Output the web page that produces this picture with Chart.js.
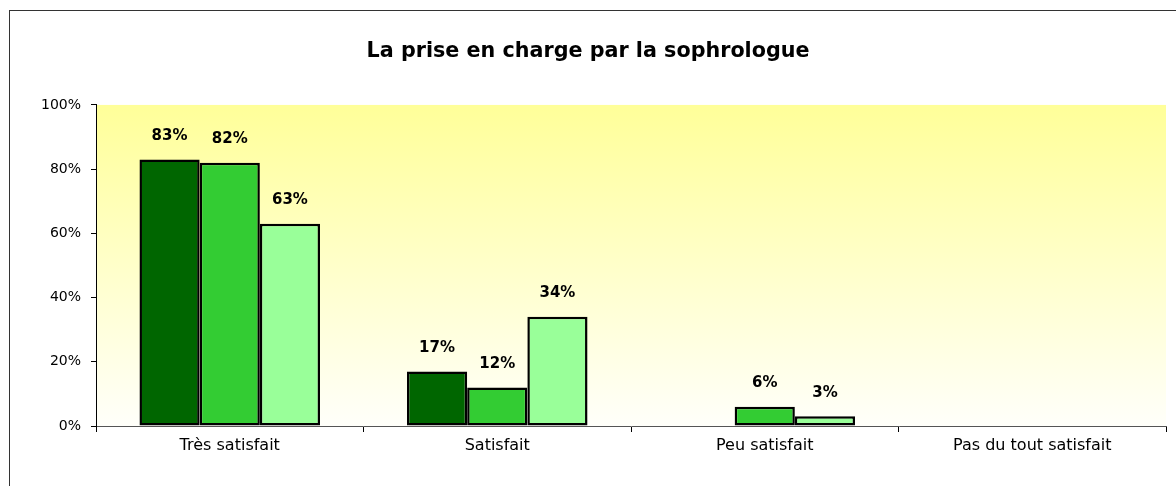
<!DOCTYPE html>
<html>
<head>
<meta charset="utf-8">
<script src="https://cdn.jsdelivr.net/npm/chart.js@4"></script>
<style>
  html, body { margin: 0; padding: 0; background: #fff; }
  #wrap { width: 1176px; height: 486px; }
</style>
</head>
<body>
<div id="wrap"><canvas id="chart1"></canvas></div>
<script>
const categories = ["Très satisfait", "Satisfait", "Peu satisfait", "Pas du tout satisfait"];
const serie1 = [83, 17, null, null];
const serie2 = [82, 12, 6, null];
const serie3 = [63, 34, 3, null];
const yTicks = [0, 20, 40, 60, 80, 100];

// fond dégradé jaune + cadre extérieur
const fondPlugin = {
  id: "fond",
  beforeDraw(chart) {
    const c = chart.ctx;
    const a = chart.chartArea;
    c.save();
    const g = c.createLinearGradient(0, a.top, 0, a.bottom);
    g.addColorStop(0, "#FFFF99");
    g.addColorStop(1, "#FFFFFA");
    c.fillStyle = g;
    c.fillRect(a.left, a.top, a.right - a.left, a.bottom - a.top);
    c.strokeStyle = "#333";
    c.lineWidth = 1;
    c.strokeRect(9.5, 10.5, chart.width, chart.height);
    c.restore();
  }
};

// étiquettes de valeurs au-dessus des barres
const etiquettes = {
  id: "etiquettes",
  afterDatasetsDraw(chart) {
    const c = chart.ctx;
    c.save();
    c.font = "bold 15px 'DejaVu Sans'";
    c.fillStyle = "#000";
    c.textAlign = "center";
    c.textBaseline = "bottom";
    chart.data.datasets.forEach(function (ds, i) {
      chart.getDatasetMeta(i).data.forEach(function (bar, j) {
        const v = ds.data[j];
        if (v == null || v === 0) return;
        c.fillText(v + "%", bar.x, bar.y - 16);
      });
    });
    c.restore();
  }
};

const ctx = document.getElementById("chart1");
new Chart(ctx, {
  type: "bar",
  data: {
    labels: categories,
    datasets: [
      { label: "1", data: serie1, backgroundColor: "#006600", borderColor: "#000", borderWidth: 2.5, borderSkipped: false },
      { label: "2", data: serie2, backgroundColor: "#33CC33", borderColor: "#000", borderWidth: 2.5, borderSkipped: false },
      { label: "3", data: serie3, backgroundColor: "#99FF99", borderColor: "#000", borderWidth: 2.5, borderSkipped: false },
    ],
  },
  options: {
    responsive: true,
    maintainAspectRatio: false,
    animation: false,
    layout: { padding: { left: 10, right: 10, top: 0, bottom: 0 } },
    datasets: {
      bar: { categoryPercentage: 0.675, barPercentage: 1.0 }
    },
    plugins: {
      legend: { display: false },
      tooltip: { enabled: false },
      title: {
        display: true,
        text: "La prise en charge par la sophrologue",
        color: "#000",
        font: { family: "'DejaVu Sans'", size: 20.7, weight: "bold" },
        padding: { top: 39.5, bottom: 40.6 }
      }
    },
    scales: {
      x: {
        grid: { display: true, drawOnChartArea: false, drawTicks: true, tickLength: 6, color: "#000", offset: true },
        border: { display: true, color: "#555" },
        ticks: { color: "#000", font: { family: "'DejaVu Sans'", size: 16 }, padding: 4 },
        afterFit(scale) { scale.height = 60; }
      },
      y: {
        min: 0,
        max: 100,
        afterBuildTicks(scale) { scale.ticks = yTicks.map(function (v) { return { value: v }; }); },
        grid: { display: true, drawOnChartArea: false, drawTicks: true, tickLength: 5, color: "#000" },
        border: { display: true, color: "#000" },
        ticks: {
          color: "#000",
          font: { family: "'DejaVu Sans'", size: 14 },
          padding: 10,
          callback: function (v) { return v + "%"; }
        },
        afterFit(scale) { scale.width = 86; }
      }
    }
  },
  plugins: [fondPlugin, etiquettes]
});
</script>
</body>
</html>
